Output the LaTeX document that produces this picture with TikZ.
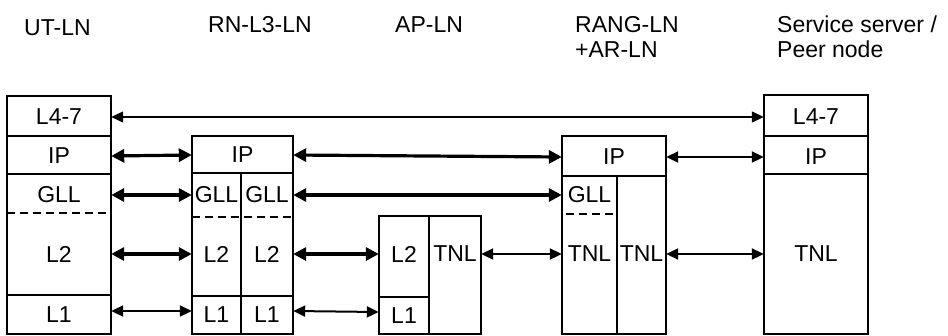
\documentclass[tikz,border=0pt]{standalone}
\usepackage{fontspec}
\setmainfont{Liberation Sans}
\usetikzlibrary{arrows.meta}
\begin{document}
\begin{tikzpicture}[x=1pt,y=-1pt,line join=miter,font=\fontsize{23}{25}\selectfont,
	box/.style={line width=1.8pt},
	cut/.style={line width=1.6pt,dash pattern=on 8pt off 5pt},
	lay/.style={inner sep=0pt,minimum height=18pt,minimum width=#1},
	hdr/.style={anchor=base west,inner sep=0pt,align=left},
	fat/.style={line width=3.2pt,{Triangle[length=13pt,width=13pt]}-{Triangle[length=13pt,width=13pt]}},
	mid/.style={line width=2pt,{Triangle[length=12pt,width=11pt]}-{Triangle[length=12pt,width=11pt]}},
	slim/.style={line width=1.3pt,{Triangle[length=12pt,width=11pt]}-{Triangle[length=12pt,width=11pt]}}]
	\useasboundingbox (0,0) rectangle (948,335);
	\node[hdr] (utln) at (24,35) {UT-LN};
	\node[hdr] (rnln) at (208,32) {RN-L3-LN};
	\node[hdr] (apln) at (395,32) {AP-LN};
	\node[hdr] (rangln) at (575,57) {RANG-LN\\+AR-LN};
	\node[hdr] (srvln) at (777,57) {Service server /\\Peer node};
	\draw[box] (7,96) rectangle (111,334) (7,136)--(111,136) (7,174)--(111,174) (7,295)--(111,295);
	\draw[cut] (7,213)--(111,213);
	\draw[box] (192,136) rectangle (293,334) (192,173)--(293,173) (241,173)--(241,334) (192,296)--(293,296);
	\draw[cut] (192,217)--(293,217);
	\draw[box] (379,216) rectangle (481,334) (429,216)--(429,334) (379,297)--(429,297);
	\draw[box] (562,136) rectangle (666,334) (562,176)--(666,176) (617,176)--(617,334);
	\draw[cut] (566,214)--(617,214);
	\draw[box] (764,95) rectangle (868,334) (764,136)--(868,136) (764,174)--(868,174);
	\node[lay=104] (ut47) at (59,117) {L4-7};
	\node[lay=104] (utip) at (59,156) {IP};
	\node[lay=104] (utgll) at (59,195) {GLL};
	\node[lay=104] (utl2) at (59,254) {L2};
	\node[lay=104] (utl1) at (59,315) {L1};
	\node[lay=101] (rnip) at (242.5,155) {IP};
	\node[lay=49] (rnglla) at (216.5,195) {GLL};
	\node[lay=52] (rngllb) at (267,195) {GLL};
	\node[lay=49] (rnl2a) at (216.5,254) {L2};
	\node[lay=52] (rnl2b) at (267,254) {L2};
	\node[lay=49] (rnl1a) at (216.5,315) {L1};
	\node[lay=52] (rnl1b) at (267,315) {L1};
	\node[lay=50] (apl2) at (404,254) {L2};
	\node[lay=50] (apl1) at (404,316) {L1};
	\node[lay=52] (aptnl) at (455,254) {TNL};
	\node[lay=104] (rangip) at (614,157) {IP};
	\node[lay=55] (ranggll) at (589.5,195) {GLL};
	\node[lay=55] (rangtnla) at (589.5,254) {TNL};
	\node[lay=49] (rangtnlb) at (641.5,254) {TNL};
	\node[lay=104] (srv47) at (816,117) {L4-7};
	\node[lay=104] (srvip) at (816,157) {IP};
	\node[lay=104] (srvtnl) at (816,254) {TNL};
	\draw[slim] (ut47.east)--(srv47.west);
	\draw[fat] (utip.east)--(rnip.west);
	\draw[fat] (utgll.east)--(rnglla.west);
	\draw[fat] (utl2.east)--(rnl2a.west);
	\draw[mid] ([yshift=4pt]utl1.east)--([yshift=4pt]rnl1a.west);
	\draw[fat] (rnip.east)--(rangip.west);
	\draw[fat] (rngllb.east)--(ranggll.west);
	\draw[fat] (rnl2b.east)--(apl2.west);
	\draw[mid] ([yshift=4pt]rnl1b.east)--([yshift=4pt]apl1.west);
	\draw[mid] (aptnl.east)--(rangtnla.west);
	\draw[mid] (rangip.east)--(srvip.west);
	\draw[mid] (rangtnlb.east)--(srvtnl.west);
\end{tikzpicture}
\end{document}
